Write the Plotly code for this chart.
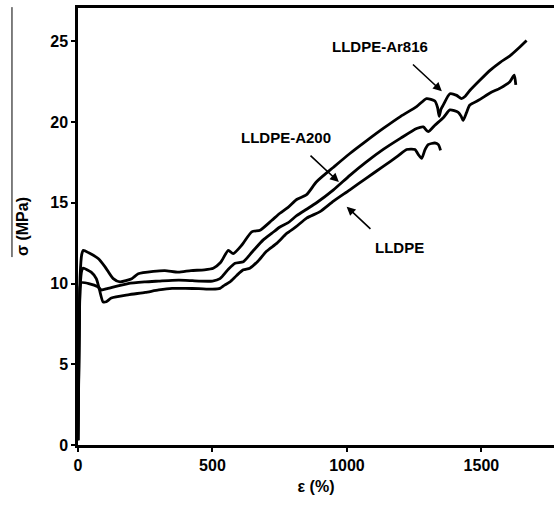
import plotly.graph_objects as go

# ---- data (strain %, stress MPa) ----
ar816_x = [0, 4, 8, 14, 20, 40, 75, 100, 131, 156, 200, 224, 280, 323, 373, 420, 470, 503, 530, 559, 577,
           610, 646, 677, 720, 751, 780, 813, 850, 887, 950, 1011, 1070, 1135, 1200, 1259, 1296, 1327, 1337,
           1343, 1350, 1358, 1383, 1408, 1426, 1440, 1457, 1495, 1532, 1570, 1606, 1640, 1668]
ar816_y = [0.3, 6.0, 10.5, 11.8, 12.05, 11.9, 11.55, 11.05, 10.3, 10.1, 10.3, 10.6, 10.75, 10.8, 10.7, 10.8,
           10.85, 10.95, 11.3, 12.05, 11.85, 12.4, 13.2, 13.3, 13.9, 14.35, 14.7, 15.2, 15.5, 16.3, 17.2,
           18.05, 18.8, 19.6, 20.35, 20.95, 21.45, 21.3, 20.9, 20.35, 20.8, 21.05, 21.75, 21.65, 21.45, 21.6,
           21.95, 22.6, 23.2, 23.7, 24.1, 24.6, 25.05]

a200_x = [0, 4, 8, 12, 40, 74, 87, 112, 186, 250, 300, 350, 400, 450, 500, 528, 560, 584, 615, 650, 689,
          720, 751, 780, 813, 850, 887, 950, 1011, 1070, 1135, 1200, 1259, 1284, 1302, 1327, 1360, 1383,
          1414, 1425, 1432, 1445, 1457, 1495, 1532, 1570, 1606, 1622, 1628]
a200_y = [0.3, 7.0, 9.8, 10.05, 10.0, 9.8, 9.6, 9.7, 10.0, 10.1, 10.15, 10.2, 10.2, 10.15, 10.15, 10.3,
          10.9, 11.25, 11.35, 12.0, 12.7, 13.1, 13.5, 13.75, 14.2, 14.6, 15.0, 15.8, 16.7, 17.5, 18.3,
          19.0, 19.6, 19.7, 19.4, 19.8, 20.3, 20.75, 20.6, 20.35, 20.1, 20.6, 21.05, 21.4, 21.8, 22.1,
          22.5, 22.9, 22.3]

lldpe_x = [0, 4, 8, 14, 19, 49, 68, 80, 93, 105, 124, 186, 250, 300, 350, 400, 450, 500, 528, 545, 565,
           590, 615, 639, 670, 701, 740, 776, 810, 850, 900, 950, 1011, 1070, 1135, 1190, 1222, 1253, 1265,
           1278, 1290, 1302, 1327, 1340, 1348]
lldpe_y = [0.3, 6.5, 9.8, 10.8, 10.95, 10.7, 10.3, 9.6, 8.87, 8.87, 9.1, 9.3, 9.45, 9.6, 9.7, 9.7, 9.68,
           9.65, 9.7, 9.9, 10.1, 10.5, 10.85, 10.95, 11.4, 12.0, 12.5, 13.1, 13.5, 14.05, 14.45, 15.1, 15.8,
           16.5, 17.25, 17.9, 18.3, 18.3, 18.0, 17.75, 18.27, 18.6, 18.7, 18.6, 18.25]

x_ticks = [0, 500, 1000, 1500]
y_ticks = [0, 5, 10, 15, 20, 25]

FONT = "Liberation Sans"

fig = go.Figure()
for xs, ys in [(ar816_x, ar816_y), (a200_x, a200_y), (lldpe_x, lldpe_y)]:
    fig.add_trace(go.Scatter(x=xs, y=ys, mode="lines",
                             line=dict(color="black", width=2.8, shape="spline", smoothing=0.6),
                             showlegend=False, hoverinfo="skip"))

labels = [
    dict(text="LLDPE-Ar816", x=1123, y=24.7, hx=1353, hy=21.9, tx=1240, ty=23.65),
    dict(text="LLDPE-A200", x=773, y=19.07, hx=970, hy=16.28, tx=859, ty=18.0),
    dict(text="LLDPE", x=1197, y=12.26, hx=999, hy=14.76, tx=1093, ty=13.3),
]
for lb in labels:
    fig.add_annotation(x=lb["x"], y=lb["y"], text="<b>%s</b>" % lb["text"], showarrow=False,
                       font=dict(family=FONT, size=15, color="black"))
    fig.add_annotation(x=lb["hx"], y=lb["hy"], ax=lb["tx"], ay=lb["ty"], axref="x", ayref="y",
                       text="", showarrow=True, arrowhead=2, arrowsize=1.1, arrowwidth=1.6,
                       arrowcolor="black")

# thin border artifact at far left
fig.add_shape(type="line", xref="paper", yref="paper", x0=-0.1387, x1=-0.1387, y0=1.002, y1=0.43,
              line=dict(color="black", width=1))

fig.update_layout(
    width=554, height=508,
    margin=dict(l=78, r=0, t=8, b=63),
    paper_bgcolor="white", plot_bgcolor="white",
    font=dict(family=FONT, size=16, color="black"),
)
fig.update_xaxes(range=[0, 1770], tickvals=x_ticks, ticktext=["<b>%d</b>" % v for v in x_ticks],
                 showgrid=False, zeroline=False, showline=True, linecolor="black", linewidth=2.5,
                 mirror=True, ticks="outside", ticklen=4, tickwidth=2, tickcolor="black",
                 title=dict(text="<b>ε (%)</b>", font=dict(family=FONT, size=16), standoff=8))
fig.update_yaxes(range=[0, 27.06], tickvals=y_ticks, ticktext=["<b>%d</b>" % v for v in y_ticks],
                 showgrid=False, zeroline=False, showline=True, linecolor="black", linewidth=2.5,
                 mirror=False, ticks="outside", ticklen=4, tickwidth=2, tickcolor="black",
                 title=dict(text="<b>σ (MPa)</b>", font=dict(family=FONT, size=16), standoff=18))

fig.write_html("out.html")
